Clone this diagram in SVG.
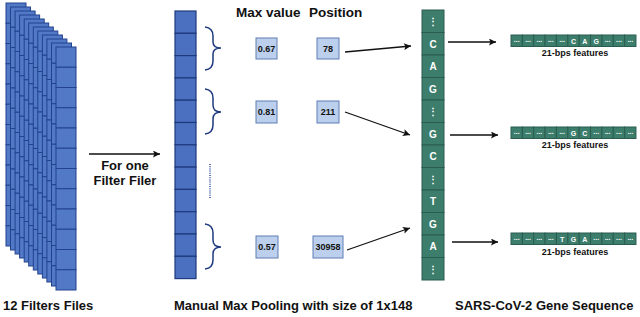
<svg xmlns="http://www.w3.org/2000/svg" width="640" height="317" viewBox="0 0 640 317">
<defs>
<style>
.fc{fill:#5179c6;stroke:#23438f;stroke-width:1}
.pc{fill:#4a70bf;stroke:#1f3a7e;stroke-width:1.2}
.box{fill:#bcd0ee;stroke:#5f7fb3;stroke-width:1}
.bt{font-family:"Liberation Sans",Arial,sans-serif;font-weight:bold;font-size:9px;fill:#111;text-anchor:middle}
.lbl{font-family:"Liberation Sans",Arial,sans-serif;font-weight:bold;font-size:13px;fill:#111}
.hd{font-family:"Liberation Sans",Arial,sans-serif;font-weight:bold;font-size:13.5px;fill:#111}
.gc{fill:#3c7d6c;stroke:#2a5d50;stroke-width:1}
.gt{font-family:"Liberation Sans",Arial,sans-serif;font-weight:bold;font-size:10px;fill:#fff;text-anchor:middle}
.ft{font-family:"Liberation Sans",Arial,sans-serif;font-weight:bold;font-size:7px;fill:#fff;text-anchor:middle}
.fl{font-family:"Liberation Sans",Arial,sans-serif;font-weight:bold;font-size:9px;fill:#111;text-anchor:middle}
.br{fill:none;stroke:#1f3a7e;stroke-width:1.5}
.ar{stroke:#111;stroke-width:1.3;fill:none;marker-end:url(#ah)}
</style>
<marker id="ah" viewBox="0 0 10 10" refX="10" refY="5" markerWidth="9" markerHeight="7" markerUnits="userSpaceOnUse" orient="auto">
<path d="M0,0 L10,5 L0,10 L2,5 z" fill="#111"/>
</marker>
<g id="col">
<rect class="fc" x="0" y="0" width="20" height="20.25"/>
<rect class="fc" x="0" y="20.25" width="20" height="20.25"/>
<rect class="fc" x="0" y="40.5" width="20" height="20.25"/>
<rect class="fc" x="0" y="60.75" width="20" height="20.25"/>
<rect class="fc" x="0" y="81" width="20" height="20.25"/>
<rect class="fc" x="0" y="101.25" width="20" height="20.25"/>
<rect class="fc" x="0" y="121.5" width="20" height="20.25"/>
<rect class="fc" x="0" y="141.75" width="20" height="20.25"/>
<rect class="fc" x="0" y="162" width="20" height="20.25"/>
<rect class="fc" x="0" y="182.25" width="20" height="20.25"/>
<rect class="fc" x="0" y="202.5" width="20" height="20.25"/>
<rect class="fc" x="0" y="222.75" width="20" height="20.25"/>
</g>
</defs>
<rect width="640" height="317" fill="#fff"/>

<g id="filters">
<use href="#col" x="6" y="3"/>
<use href="#col" x="10.5" y="7"/>
<use href="#col" x="15.1" y="11"/>
<use href="#col" x="19.6" y="15"/>
<use href="#col" x="24.2" y="19"/>
<use href="#col" x="28.7" y="23"/>
<use href="#col" x="33.3" y="27"/>
<use href="#col" x="37.8" y="31"/>
<use href="#col" x="42.4" y="35"/>
<use href="#col" x="46.9" y="39"/>
<use href="#col" x="51.5" y="43"/>
<use href="#col" x="56" y="47"/>
<text class="lbl" x="3" y="310">12 Filters Files</text>
</g>

<g id="pooling">
<rect class="pc" x="175" y="11" width="21" height="22.3"/>
<rect class="pc" x="175" y="33.3" width="21" height="22.3"/>
<rect class="pc" x="175" y="55.6" width="21" height="22.3"/>
<rect class="pc" x="175" y="77.9" width="21" height="22.3"/>
<rect class="pc" x="175" y="100.2" width="21" height="22.3"/>
<rect class="pc" x="175" y="122.5" width="21" height="22.3"/>
<rect class="pc" x="175" y="144.8" width="21" height="22.3"/>
<rect class="pc" x="175" y="167.1" width="21" height="22.3"/>
<rect class="pc" x="175" y="189.4" width="21" height="22.3"/>
<rect class="pc" x="175" y="211.7" width="21" height="22.3"/>
<rect class="pc" x="175" y="234" width="21" height="22.3"/>
<rect class="pc" x="175" y="256.3" width="21" height="22.3"/>
<text class="lbl" x="174" y="310">Manual Max Pooling with size of 1x148</text>
</g>

<g id="braces">
<path class="br" d="M205,27 Q213,28 213,36 L213,42 Q213,48 221,48 Q213,48 213,54 L213,61 Q213,69 205,70"/>
<path class="br" d="M205,89 Q213,90 213,98 L213,105 Q213,112 221,112 Q213,112 213,119 L213,125 Q213,133 205,134"/>
<path class="br" d="M205,224 Q213,225 213,233 L213,240 Q213,247 221,247 Q213,247 213,254 L213,260 Q213,268 205,269"/>
<line x1="210" y1="164" x2="210" y2="198" stroke="#2a4a9a" stroke-width="1.5" stroke-dasharray="1,1.2"/>
</g>

<g id="headers">
<text class="hd" x="236" y="17">Max value</text>
<text class="hd" x="309" y="17">Position</text>
</g>

<g id="values">
<rect class="box" x="256" y="38" width="21" height="21"/><text class="bt" x="266.5" y="52">0.67</text>
<rect class="box" x="317" y="38" width="22" height="21"/><text class="bt" x="328" y="52">78</text>
<rect class="box" x="256" y="101" width="21" height="22"/><text class="bt" x="266.5" y="115">0.81</text>
<rect class="box" x="317" y="101" width="22" height="22"/><text class="bt" x="328" y="115">211</text>
<rect class="box" x="256" y="236" width="22" height="22"/><text class="bt" x="267" y="250">0.57</text>
<rect class="box" x="313" y="236" width="30" height="22"/><text class="bt" x="328" y="250">30958</text>
</g>

<g id="gene">
<rect class="gc" x="422" y="10" width="22" height="22.5"/><text class="gt" x="433" y="25">⋮</text>
<rect class="gc" x="422" y="32.5" width="22" height="22.5"/><text class="gt" x="433" y="47.5">C</text>
<rect class="gc" x="422" y="55" width="22" height="22.5"/><text class="gt" x="433" y="70">A</text>
<rect class="gc" x="422" y="77.5" width="22" height="22.5"/><text class="gt" x="433" y="92.5">G</text>
<rect class="gc" x="422" y="100" width="22" height="22.5"/><text class="gt" x="433" y="115">⋮</text>
<rect class="gc" x="422" y="122.5" width="22" height="22.5"/><text class="gt" x="433" y="137.5">G</text>
<rect class="gc" x="422" y="145" width="22" height="22.5"/><text class="gt" x="433" y="160">C</text>
<rect class="gc" x="422" y="167.5" width="22" height="22.5"/><text class="gt" x="433" y="182.5">⋮</text>
<rect class="gc" x="422" y="190" width="22" height="22.5"/><text class="gt" x="433" y="205">T</text>
<rect class="gc" x="422" y="212.5" width="22" height="22.5"/><text class="gt" x="433" y="227.5">G</text>
<rect class="gc" x="422" y="235" width="22" height="22.5"/><text class="gt" x="433" y="250">A</text>
<rect class="gc" x="422" y="257.5" width="22" height="22.5"/><text class="gt" x="433" y="272.5">⋮</text>
<text class="lbl" x="455" y="310">SARS-CoV-2 Gene Sequence</text>
</g>

<g id="features1">
<rect class="gc" x="511" y="35" width="11.36" height="11.5"/><text class="ft" x="516.7" y="42">...</text>
<rect class="gc" x="522.4" y="35" width="11.36" height="11.5"/><text class="ft" x="528.1" y="42">...</text>
<rect class="gc" x="533.7" y="35" width="11.36" height="11.5"/><text class="ft" x="539.4" y="42">...</text>
<rect class="gc" x="545.1" y="35" width="11.36" height="11.5"/><text class="ft" x="550.8" y="42">...</text>
<rect class="gc" x="556.4" y="35" width="11.36" height="11.5"/><text class="ft" x="562.1" y="42">...</text>
<rect class="gc" x="567.8" y="35" width="11.36" height="11.5"/><text class="ft" x="573.5" y="43.5">C</text>
<rect class="gc" x="579.2" y="35" width="11.36" height="11.5"/><text class="ft" x="584.9" y="43.5">A</text>
<rect class="gc" x="590.5" y="35" width="11.36" height="11.5"/><text class="ft" x="596.2" y="43.5">G</text>
<rect class="gc" x="601.9" y="35" width="11.36" height="11.5"/><text class="ft" x="607.6" y="42">...</text>
<rect class="gc" x="613.3" y="35" width="11.36" height="11.5"/><text class="ft" x="619" y="42">...</text>
<rect class="gc" x="624.6" y="35" width="11.36" height="11.5"/><text class="ft" x="630.3" y="42">...</text>
<text class="fl" x="575" y="56">21-bps features</text>
</g>

<g id="features2">
<rect class="gc" x="511" y="127" width="11.36" height="11.5"/><text class="ft" x="516.7" y="134">...</text>
<rect class="gc" x="522.4" y="127" width="11.36" height="11.5"/><text class="ft" x="528.1" y="134">...</text>
<rect class="gc" x="533.7" y="127" width="11.36" height="11.5"/><text class="ft" x="539.4" y="134">...</text>
<rect class="gc" x="545.1" y="127" width="11.36" height="11.5"/><text class="ft" x="550.8" y="134">...</text>
<rect class="gc" x="556.4" y="127" width="11.36" height="11.5"/><text class="ft" x="562.1" y="134">...</text>
<rect class="gc" x="567.8" y="127" width="11.36" height="11.5"/><text class="ft" x="573.5" y="135.5">G</text>
<rect class="gc" x="579.2" y="127" width="11.36" height="11.5"/><text class="ft" x="584.9" y="135.5">C</text>
<rect class="gc" x="590.5" y="127" width="11.36" height="11.5"/><text class="ft" x="596.2" y="134">...</text>
<rect class="gc" x="601.9" y="127" width="11.36" height="11.5"/><text class="ft" x="607.6" y="134">...</text>
<rect class="gc" x="613.3" y="127" width="11.36" height="11.5"/><text class="ft" x="619" y="134">...</text>
<rect class="gc" x="624.6" y="127" width="11.36" height="11.5"/><text class="ft" x="630.3" y="134">...</text>
<text class="fl" x="575" y="148">21-bps features</text>
</g>

<g id="features3">
<rect class="gc" x="511" y="233" width="11.36" height="11.5"/><text class="ft" x="516.7" y="240">...</text>
<rect class="gc" x="522.4" y="233" width="11.36" height="11.5"/><text class="ft" x="528.1" y="240">...</text>
<rect class="gc" x="533.7" y="233" width="11.36" height="11.5"/><text class="ft" x="539.4" y="240">...</text>
<rect class="gc" x="545.1" y="233" width="11.36" height="11.5"/><text class="ft" x="550.8" y="240">...</text>
<rect class="gc" x="556.4" y="233" width="11.36" height="11.5"/><text class="ft" x="562.1" y="241.5">T</text>
<rect class="gc" x="567.8" y="233" width="11.36" height="11.5"/><text class="ft" x="573.5" y="241.5">G</text>
<rect class="gc" x="579.2" y="233" width="11.36" height="11.5"/><text class="ft" x="584.9" y="241.5">A</text>
<rect class="gc" x="590.5" y="233" width="11.36" height="11.5"/><text class="ft" x="596.2" y="240">...</text>
<rect class="gc" x="601.9" y="233" width="11.36" height="11.5"/><text class="ft" x="607.6" y="240">...</text>
<rect class="gc" x="613.3" y="233" width="11.36" height="11.5"/><text class="ft" x="619" y="240">...</text>
<rect class="gc" x="624.6" y="233" width="11.36" height="11.5"/><text class="ft" x="630.3" y="240">...</text>
<text class="fl" x="575" y="255">21-bps features</text>
</g>

<g id="connectors">
<line class="ar" x1="89" y1="154" x2="160" y2="154"/>
<line class="ar" x1="345" y1="52" x2="411" y2="46"/>
<line class="ar" x1="345" y1="112" x2="410" y2="135"/>
<line class="ar" x1="347" y1="250" x2="410" y2="228"/>
<line class="ar" x1="448" y1="42" x2="496" y2="42"/>
<line class="ar" x1="450" y1="135" x2="498" y2="135"/>
<line class="ar" x1="452" y1="242" x2="498" y2="242"/>
</g>
<g id="arrow-label">
<text class="lbl" x="125" y="170" text-anchor="middle" font-size="12px">For one</text>
<text class="lbl" x="125" y="185" text-anchor="middle" font-size="12px">Filter Filer</text>
</g>
</svg>
